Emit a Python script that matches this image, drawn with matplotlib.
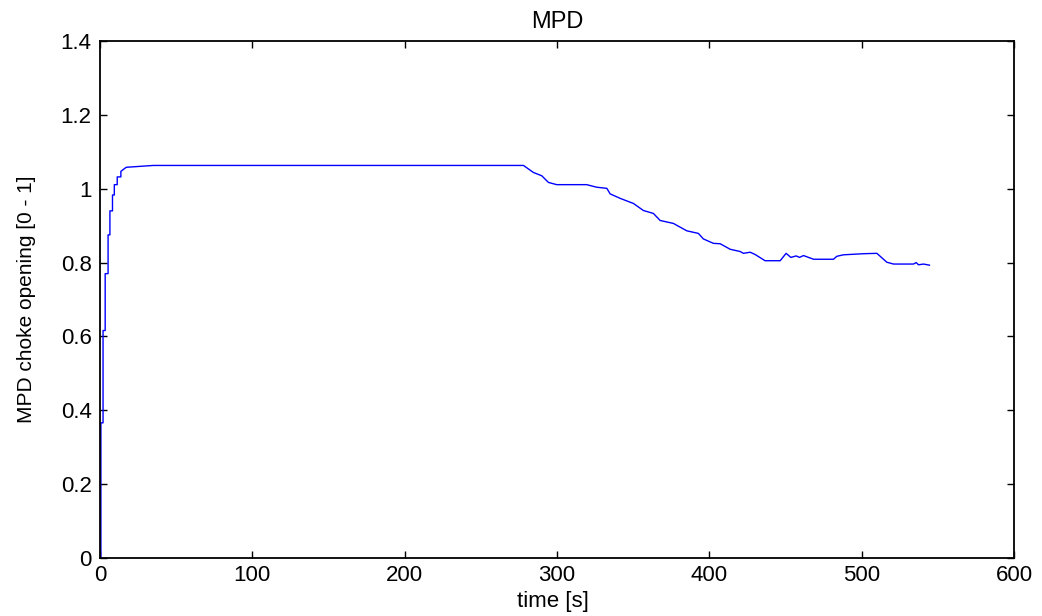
import matplotlib
matplotlib.use("Agg")
import matplotlib.pyplot as plt

# time [s] and choke opening
t = [0, 0.6, 0.6, 2.0, 2.0, 3.4, 3.4, 5.3, 5.3, 6.5, 6.5, 8.2, 8.2, 9.4, 9.4,
     11.3, 11.3, 13.7, 13.7, 17.2, 35, 278, 284.5, 290, 294.4, 299.8, 319.5,
     326.1, 332.7, 334.9, 341.4, 350.2, 356.7, 363.3, 367.7, 376.4, 385.2,
     392.8, 396.1, 402.7, 407.1, 413.7, 420.2, 422.4, 426.8, 430, 436.6,
     446.5, 450.4, 453.5, 457, 459.2, 461.8, 468.4, 481.5, 483.7, 488, 501.2,
     510, 516.5, 520.9, 534, 535.8, 537.3, 540.6, 544.5]
choke = [0, 0, 0.366, 0.366, 0.616, 0.616, 0.77, 0.77, 0.875, 0.875, 0.94,
         0.94, 0.983, 0.983, 1.011, 1.011, 1.032, 1.032, 1.047, 1.058, 1.063,
         1.063, 1.044, 1.035, 1.017, 1.011, 1.011, 1.004, 1.001, 0.986, 0.974,
         0.960, 0.941, 0.933, 0.914, 0.906, 0.886, 0.879, 0.864, 0.852, 0.851,
         0.836, 0.830, 0.825, 0.828, 0.822, 0.805, 0.805, 0.825, 0.814, 0.818,
         0.814, 0.819, 0.809, 0.809, 0.817, 0.821, 0.824, 0.825, 0.801, 0.796,
         0.796, 0.800, 0.794, 0.796, 0.793]

xticks = [0, 100, 200, 300, 400, 500, 600]
yticks = [0, 0.2, 0.4, 0.6, 0.8, 1, 1.2, 1.4]
ytick_labels = ["0", "0.2", "0.4", "0.6", "0.8", "1", "1.2", "1.4"]

plt.rcParams["font.family"] = ["Liberation Sans", "DejaVu Sans"]

fig = plt.figure(figsize=(10.42, 6.16), dpi=100)
ax = fig.add_axes([100 / 1042, (616 - 558) / 616, 914 / 1042, 517 / 616])

ax.plot(t, choke, color="#0000ff", linewidth=1.0)

ax.set_xlim(0, 600)
ax.set_ylim(0, 1.4)
ax.set_xticks(xticks)
ax.set_xticklabels([str(v) for v in xticks])
ax.set_yticks(yticks)
ax.set_yticklabels(ytick_labels)
ax.tick_params(direction="in", length=5, width=1, top=True, right=True,
               labelsize=16)
ax.tick_params(axis="x", pad=5)
ax.tick_params(axis="y", pad=6)
for s in ax.spines.values():
    s.set_linewidth(1.3)

ax.set_title("MPD", fontsize=17, pad=9)
ax.set_xlabel("time [s]", fontsize=16)
ax.xaxis.set_label_coords(0.496, -0.064)
ax.set_ylabel("MPD choke opening [0 - 1]", fontsize=15)
ax.yaxis.set_label_coords(-0.070, 0.50)

fig.savefig("out.png", dpi=100)
